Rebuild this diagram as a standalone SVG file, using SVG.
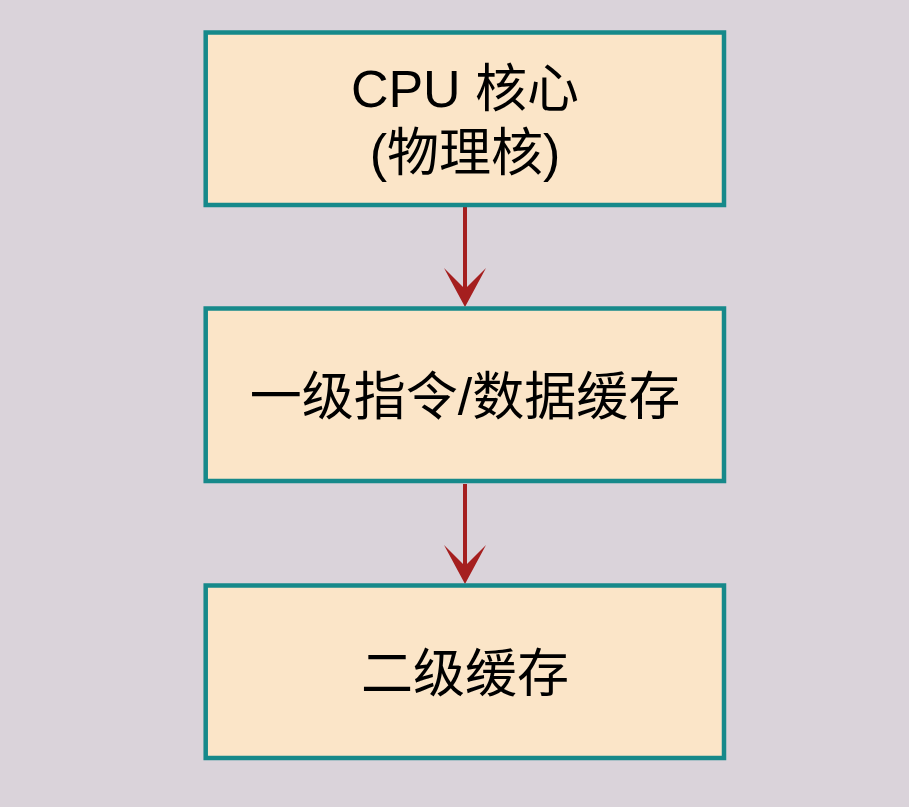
<svg xmlns="http://www.w3.org/2000/svg" width="909" height="807" viewBox="0 0 909 807">
<defs>
<style>
.box{fill:#fbe5c8;stroke:#16898a;stroke-width:4.5}
.t{font-family:"Liberation Sans","Noto Sans CJK SC",sans-serif;font-size:52px;fill:#000;text-anchor:middle;dominant-baseline:central}
.ln{stroke:#a51f1f;stroke-width:4;fill:none}
.ah{fill:#a51f1f}
</style>
</defs>
<rect width="909" height="807" fill="#dad3da"/>
<g id="connectors">
<line class="ln" x1="465" y1="207" x2="465" y2="292"/>
<polygon class="ah" points="465,307 444,268 465,289 486,268"/>
<line class="ln" x1="465" y1="484" x2="465" y2="569"/>
<polygon class="ah" points="465,584 444,545 465,566 486,545"/>
</g>
<g id="cpu">
<rect class="box" x="205.7" y="32.5" width="518.3" height="172.5"/>
<text class="t" x="465" y="89">CPU 核心</text>
<text class="t" x="465" y="153">(物理核)</text>
</g>
<g id="l1">
<rect class="box" x="205.7" y="308.5" width="518.3" height="172.5"/>
<text class="t" x="465" y="397">一级指令/数据缓存</text>
</g>
<g id="l2">
<rect class="box" x="205.7" y="585.5" width="518.3" height="172.5"/>
<text class="t" x="465" y="674">二级缓存</text>
</g>
</svg>
